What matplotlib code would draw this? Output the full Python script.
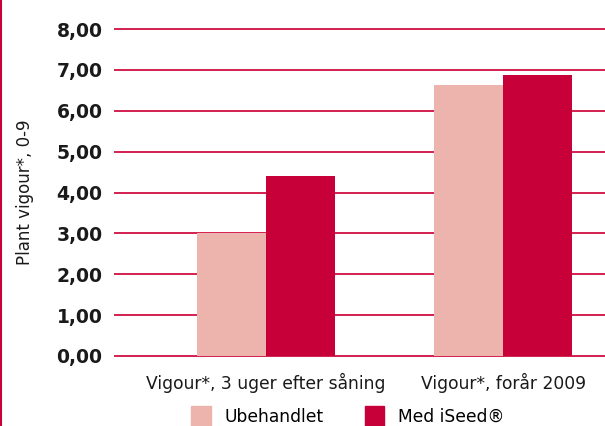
import numpy as np
import matplotlib.pyplot as plt
from matplotlib.lines import Line2D
from matplotlib.patches import Patch

categories = ["Vigour*, 3 uger efter såning", "Vigour*, forår 2009"]
ubehandlet = [3.00, 6.63]
med_iseed = [4.40, 6.87]
yticks = [0, 1, 2, 3, 4, 5, 6, 7, 8]
ytick_labels = ["0,00", "1,00", "2,00", "3,00", "4,00", "5,00", "6,00", "7,00", "8,00"]

PINK = "#ecb4ac"
RED = "#c8003a"
GRID = "#d41f50"

fig = plt.figure(figsize=(6.05, 4.26), dpi=100)
ax = fig.add_axes([115 / 605, 1 - 356 / 426, 490 / 605, 327 / 426])

x = np.arange(len(categories))
w = 0.29
ax.bar(x - w / 2, ubehandlet, w, color=PINK, zorder=3, label="Ubehandlet")
ax.bar(x + w / 2, med_iseed, w, color=RED, zorder=3, label="Med iSeed®")

for yv in yticks:
    ax.axhline(yv, color=GRID, lw=1.4, zorder=1, clip_on=False)

ax.set_xlim(-0.637, 1.43)
ax.set_ylim(0, 8)
ax.set_yticks(yticks)
ax.set_yticklabels(ytick_labels, fontsize=13.5, fontweight="bold", color="#1a1a1a")
ax.set_xticks(x)
ax.set_xticklabels(categories, fontsize=12.3, color="#1a1a1a")
ax.tick_params(axis="y", length=0, pad=9)
ax.tick_params(axis="x", length=0, pad=12)
for s in ax.spines.values():
    s.set_visible(False)

ax.set_ylabel("Plant vigour*, 0-9", fontsize=12, color="#1a1a1a")
ax.yaxis.set_label_coords(-0.165, 0.5)

handles = [Patch(color=PINK), Patch(color=RED)]
fig.legend(handles, ["Ubehandlet", "Med iSeed®"], loc="center",
           bbox_to_anchor=(348 / 605, 1 - 416 / 426), ncol=2, frameon=False,
           fontsize=12.3, handlelength=1.15, handleheight=1.5, columnspacing=2.4,
           handletextpad=0.8, borderaxespad=0)

fig.add_artist(Line2D([0.002, 0.002], [0, 1], color=RED, lw=1.5, transform=fig.transFigure))

fig.savefig("out.png", dpi=100)
